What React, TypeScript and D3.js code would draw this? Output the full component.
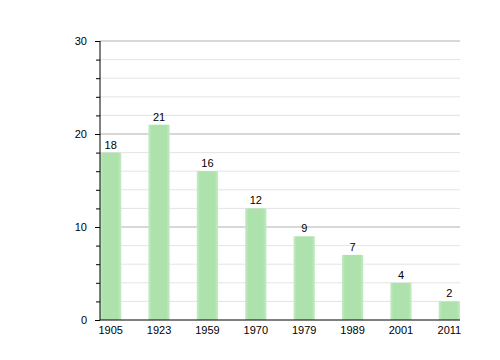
import React, { useRef, useEffect } from 'react';
import * as d3 from 'd3';

const years = ['1905', '1923', '1959', '1970', '1979', '1989', '2001', '2011'];
const values = [18, 21, 16, 12, 9, 7, 4, 2];
const majorTicks = [0, 10, 20, 30];
const minorTicks = [2, 4, 6, 8, 12, 14, 16, 18, 22, 24, 26, 28];

const Chart: React.FC = () => {
  const svgRef = useRef<SVGSVGElement | null>(null);

  useEffect(() => {
    if (!svgRef.current) return;
    const width = 500;
    const height = 360;
    const margin = { top: 41, right: 40, bottom: 40, left: 100 };
    const chartWidth = width - margin.left - margin.right;
    const chartHeight = height - margin.top - margin.bottom;

    const svg = d3.select(svgRef.current)
      .attr('width', width)
      .attr('height', height);

    const defs = svg.append('defs');
    const grad = defs.append('linearGradient')
      .attr('id', 'barGrad')
      .attr('x1', '0%').attr('x2', '100%').attr('y1', '0%').attr('y2', '0%');
    grad.append('stop').attr('offset', '0%').attr('stop-color', '#c4ecc4');
    grad.append('stop').attr('offset', '15%').attr('stop-color', '#ade2ad');
    grad.append('stop').attr('offset', '85%').attr('stop-color', '#ade2ad');
    grad.append('stop').attr('offset', '100%').attr('stop-color', '#c4ecc4');

    const g = svg.append('g')
      .attr('transform', `translate(${margin.left},${margin.top})`);

    const x = d3.scaleBand()
      .domain(years)
      .range([0, chartWidth])
      .paddingInner(0.56)
      .paddingOuter(0);

    const y = d3.scaleLinear()
      .domain([0, 30])
      .range([chartHeight, 0]);

    // minor gridlines
    g.selectAll('line.minor')
      .data(minorTicks)
      .join('line')
      .attr('x1', 0)
      .attr('x2', chartWidth)
      .attr('y1', d => y(d))
      .attr('y2', d => y(d))
      .attr('stroke', '#e4e4e4')
      .attr('stroke-width', 1);

    // major gridlines
    g.selectAll('line.major')
      .data(majorTicks.filter(d => d > 0))
      .join('line')
      .attr('x1', 0)
      .attr('x2', chartWidth)
      .attr('y1', d => y(d))
      .attr('y2', d => y(d))
      .attr('stroke', '#b0b0b0')
      .attr('stroke-width', 1);

    // bars
    g.selectAll('rect.bar')
      .data(values)
      .join('rect')
      .attr('x', (_, i) => x(years[i])!)
      .attr('y', d => y(d))
      .attr('width', x.bandwidth())
      .attr('height', d => chartHeight - y(d))
      .attr('fill', 'url(#barGrad)');

    // value labels
    g.selectAll('text.val')
      .data(values)
      .join('text')
      .attr('x', (_, i) => x(years[i])! + x.bandwidth() / 2)
      .attr('y', d => y(d) - 4)
      .attr('text-anchor', 'middle')
      .attr('font-family', 'Liberation Sans, Arial, sans-serif')
      .attr('font-size', '11px')
      .attr('fill', '#000')
      .text(d => d);

    // y axis
    const yAxis = g.append('g')
      .call(d3.axisLeft(y).tickValues(majorTicks).tickSize(5).tickPadding(8).tickFormat(d3.format('d')));
    yAxis.select('.domain').remove();
    yAxis.selectAll('text')
      .attr('font-family', 'Liberation Sans, Arial, sans-serif')
      .attr('font-size', '11px')
      .attr('fill', '#000');

    g.append('g')
      .call(d3.axisLeft(y).tickValues(minorTicks).tickSize(4).tickFormat(() => ''))
      .select('.domain').remove();

    g.append('line')
      .attr('x1', 0).attr('x2', 0)
      .attr('y1', 0).attr('y2', chartHeight)
      .attr('stroke', '#000');

    // x axis
    const xAxis = g.append('g')
      .attr('transform', `translate(0,${chartHeight})`)
      .call(d3.axisBottom(x).tickSize(0).tickPadding(6));
    xAxis.select('.domain').remove();
    xAxis.selectAll('text')
      .attr('font-family', 'Liberation Sans, Arial, sans-serif')
      .attr('font-size', '11px')
      .attr('fill', '#000');

    g.append('line')
      .attr('x1', 0).attr('x2', chartWidth)
      .attr('y1', chartHeight).attr('y2', chartHeight)
      .attr('stroke', '#000');

    return () => {
      d3.select(svgRef.current).selectAll('*').remove();
    };
  }, []);

  return <svg ref={svgRef} style={{ display: 'block', position: 'absolute', left: 0, top: 0 }}></svg>;
};

export default function App() {
  return <Chart />;
}
